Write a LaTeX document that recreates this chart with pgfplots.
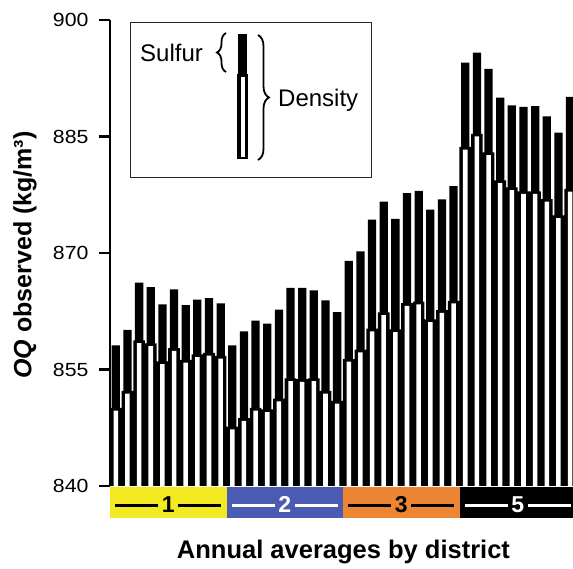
\documentclass[border=0pt]{standalone}
\usepackage{fontspec}
\setmainfont{Liberation Sans}
\newfontfamily\tickfont[FakeStretch=1.12]{Liberation Sans}
\usepackage{pgfplots}
\pgfplotsset{compat=1.18}
\usepackage{pgfplotstable}
\usetikzlibrary{decorations.pathreplacing}
\definecolor{dyellow}{HTML}{F3E921}
\definecolor{dblue}{HTML}{4B5AB2}
\definecolor{dorange}{HTML}{EC8534}

% x: bar index, T: density + sulfur (top of black), D: density (top of outlined bar)
\pgfplotstableread{
x T D
1 858.1 850.05
2 860.1 852.25
3 866.2 858.75
4 865.6 858.35
5 863.4 856.05
6 865.3 857.75
7 863.3 856.25
8 864.0 856.95
9 864.2 857.15
10 863.5 856.75
11 858.1 847.65
12 859.9 848.75
13 861.3 850.05
14 860.9 849.85
15 862.7 851.25
16 865.5 853.85
17 865.5 853.75
18 865.2 853.85
19 863.9 852.25
20 862.4 850.95
21 869.0 856.35
22 870.2 857.55
23 874.3 860.25
24 876.6 862.35
25 874.4 860.15
26 877.7 863.55
27 878.0 863.75
28 875.6 861.45
29 876.9 862.65
30 878.6 863.85
31 894.5 883.65
32 895.8 885.35
33 893.7 882.95
34 890.0 879.35
35 889.0 878.45
36 888.8 877.95
37 888.9 877.95
38 887.6 876.95
39 885.5 874.85
40 890.1 878.25
}\datatable

\begin{document}
\begin{tikzpicture}[x=1pt,y=1pt]
\useasboundingbox (-110,-83) rectangle (463,486);
\begin{axis}[
  at={(0,0)}, anchor=south west,
  scale only axis, width=463pt, height=466pt,
  xmin=0.5, xmax=40.25, ymin=840, ymax=900,
  hide x axis,
  axis y line*=left,
  y axis line style={black, line width=1.8pt},
  ytick={840,855,870,885,900},
  yticklabel style={font=\tickfont\fontsize{19}{19}\selectfont, anchor=east, xshift=-8pt},
  /pgf/number format/assume math mode=true,
  /pgf/number format/1000 sep={},
  ytick style={draw=black, line width=1.8pt},
  ytick align=outside,
  major tick length=10pt,
  axis on top,
]
\addplot[ybar, bar width=1, bar shift=0pt, fill=black, draw=none]
  table[x=x, y=D]{\datatable};
\addplot[ybar, bar width=0.71, bar shift=0pt, fill=black, draw=none]
  table[x=x, y=T]{\datatable};
\addplot[ybar, bar width=0.39, bar shift=0pt, fill=white, draw=none]
  table[x=x, y expr=\thisrow{D}-0.35]{\datatable};
\end{axis}

% y tick marks (840, 855, 870, 885, 900 at 466pt / 60 units)
\foreach \tickpos in {0,116.5,233,349.5,466}{
  \fill[black] (-10.5,\tickpos-1.1) rectangle (0.5,\tickpos+1.1);
}

% district band
\fill[dyellow] (0,-1.5) rectangle (116.5,-32);
\fill[dblue] (116.5,-1.5) rectangle (233,-32);
\fill[dorange] (233,-1.5) rectangle (349.5,-32);
\fill[black] (349.5,-1.5) rectangle (463,-32);
\foreach \a/\lab/\col in {0/1/black, 116.5/2/white, 233/3/black, 349.5/5/white}{
  \pgfmathsetmacro{\c}{\a+58.25}
  \draw[\col, line width=2.8pt] (\a+5,-19.5) -- (\c-10,-19.5);
  \draw[\col, line width=2.8pt] (\c+10,-19.5) -- (\a+111,-19.5);
  \node[\col, font=\bfseries\fontsize{23}{23}\selectfont, inner sep=0] at (\c,-18.5) {\lab};
}

% inset legend
\draw[line width=0.9pt, black!85] (20,309) rectangle (261,464);
\fill[black] (127.3,327) rectangle (138.3,412);
\fill[black] (128.3,411) rectangle (137.3,452);
\fill[white] (130.7,329.3) rectangle (135,409.3);
\draw[line width=1.8pt, decorate, decoration={brace, amplitude=9pt}] (116,414) -- (116,453);
\draw[line width=1.8pt, decorate, decoration={brace, amplitude=11pt}] (148,451) -- (148,326);
\node[anchor=base west, font=\fontsize{24}{24}\selectfont, inner sep=0] at (30,424) {Sulfur};
\node[anchor=base west, font=\fontsize{24}{24}\selectfont, inner sep=0] at (168,379) {Density};

% axis titles
\node[anchor=base, font=\bfseries\fontsize{25.5}{25.5}\selectfont, inner sep=0] at (233.5,-73) {Annual averages by district};
\node[rotate=90, font=\bfseries\fontsize{25}{25}\selectfont, inner sep=0] at (-85,231) {\textit{OQ} observed (kg/m³)};
\end{tikzpicture}
\end{document}
